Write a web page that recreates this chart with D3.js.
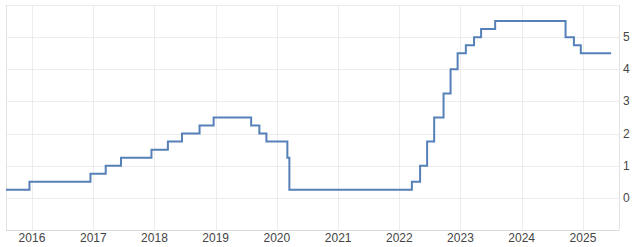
<!DOCTYPE html>
<html>
<head>
<meta charset="utf-8">
<script src="https://cdn.jsdelivr.net/npm/d3@7"></script>
<style>
  body { margin: 0; background: #fff; }
  svg { display: block; font-family: Arial, "Liberation Sans", sans-serif; }
  .grid line { stroke: #ececec; }
  .tick-label { fill: #444; font-size: 12px; }
</style>
</head>
<body>
<svg id="chart" width="640" height="247"></svg>
<script>
// step dates (rate changes) and the rate in force from that date
const dates = [
  "2015-07-30", "2015-12-17", "2016-12-15", "2017-03-16", "2017-06-15",
  "2017-12-14", "2018-03-22", "2018-06-14", "2018-09-27", "2018-12-20",
  "2019-08-01", "2019-09-19", "2019-10-31", "2020-03-04", "2020-03-16",
  "2022-03-17", "2022-05-05", "2022-06-16", "2022-07-28", "2022-09-22",
  "2022-11-03", "2022-12-15", "2023-02-02", "2023-03-23", "2023-05-04",
  "2023-07-27", "2024-09-19", "2024-11-08", "2024-12-19", "2025-06-18"
];
const rates = [
  0.25, 0.5, 0.75, 1.0, 1.25,
  1.5, 1.75, 2.0, 2.25, 2.5,
  2.25, 2.0, 1.75, 1.25, 0.25,
  0.5, 1.0, 1.75, 2.5, 3.25,
  4.0, 4.5, 4.75, 5.0, 5.25,
  5.5, 5.0, 4.75, 4.5, 4.5
];
const yearTicks = [2016, 2017, 2018, 2019, 2020, 2021, 2022, 2023, 2024, 2025];
const yTicks = [0, 1, 2, 3, 4, 5];

const parse = d3.timeParse("%Y-%m-%d");
const data = dates.map((d, i) => ({date: parse(d), value: rates[i]}));

const svg = d3.select("#chart");
const plot = {left: 6, right: 619, top: 5, bottom: 230};

const x = d3.scaleTime()
  .domain([parse("2015-07-30"), parse("2025-08-04")])
  .range([plot.left, plot.right]);
const y = d3.scaleLinear().domain([-1, 6]).range([plot.bottom, plot.top]);

const grid = svg.append("g").attr("class", "grid");
grid.selectAll("line.h")
  .data(d3.range(-1, 7))
  .join("line")
  .attr("class", "h")
  .attr("x1", plot.left).attr("x2", plot.right)
  .attr("y1", d => Math.round(y(d)) + 0.5)
  .attr("y2", d => Math.round(y(d)) + 0.5);
grid.selectAll("line.v")
  .data(yearTicks)
  .join("line")
  .attr("class", "v")
  .attr("x1", d => Math.round(x(new Date(d, 0, 1))) + 0.5)
  .attr("x2", d => Math.round(x(new Date(d, 0, 1))) + 0.5)
  .attr("y1", plot.top).attr("y2", plot.bottom);

// frame
svg.append("line")
  .attr("x1", plot.left + 0.5).attr("x2", plot.left + 0.5)
  .attr("y1", plot.top).attr("y2", plot.bottom)
  .attr("stroke", "#e2e2e2");
svg.append("line")
  .attr("x1", plot.right + 0.5).attr("x2", plot.right + 0.5)
  .attr("y1", plot.top).attr("y2", plot.bottom)
  .attr("stroke", "#e2e2e2");
svg.append("line")
  .attr("x1", plot.left).attr("x2", plot.right)
  .attr("y1", plot.bottom + 0.5).attr("y2", plot.bottom + 0.5)
  .attr("stroke", "#d8d8d8");

// x labels
svg.append("g").selectAll("text")
  .data(yearTicks)
  .join("text")
  .attr("class", "tick-label")
  .attr("x", d => x(new Date(d, 0, 1)))
  .attr("y", 242)
  .attr("text-anchor", "middle")
  .text(d => d);

// y labels
svg.append("g").selectAll("text")
  .data(yTicks)
  .join("text")
  .attr("class", "tick-label")
  .attr("x", 623)
  .attr("y", d => y(d) + 4)
  .text(d => d);

const line = d3.line()
  .x(d => x(d.date))
  .y(d => y(d.value))
  .curve(d3.curveStepAfter);

svg.append("path")
  .datum(data)
  .attr("fill", "none")
  .attr("stroke", "#5580b8")
  .attr("stroke-width", 2)
  .attr("d", line);
</script>
</body>
</html>
